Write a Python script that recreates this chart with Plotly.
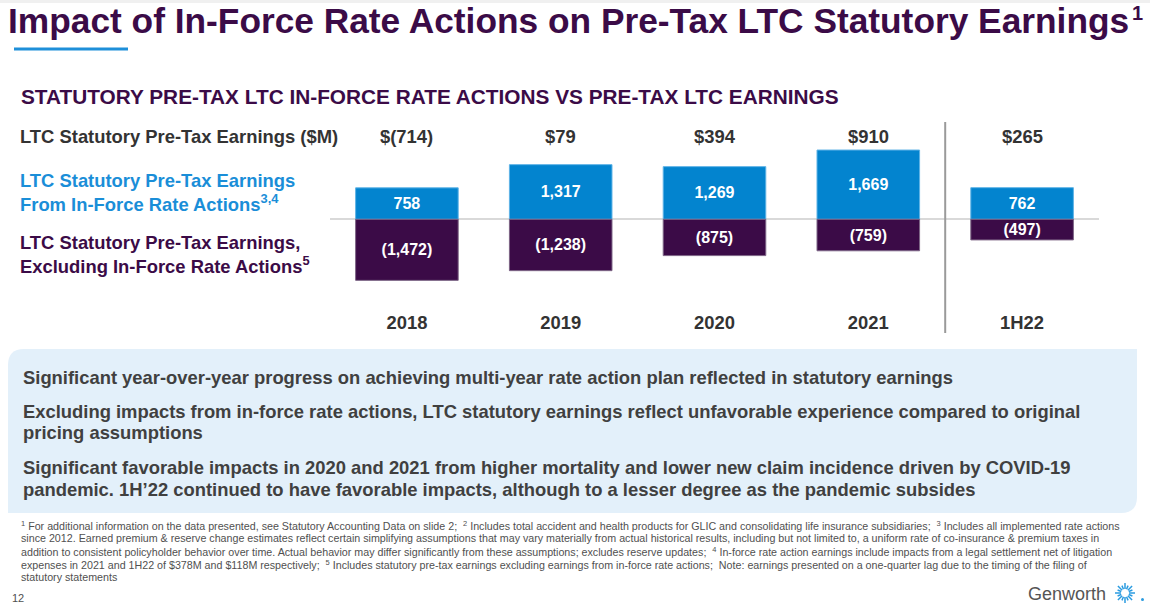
import math
import plotly.graph_objects as go

# ---------------- data ----------------
categories = ["2018", "2019", "2020", "2021", "1H22"]
rate_action_earnings = [758, 1317, 1269, 1669, 762]
excl_rate_action_earnings = [-1472, -1238, -875, -759, -497]
total_earnings = [r + e for r, e in zip(rate_action_earnings, excl_rate_action_earnings)]

W, H = 1150, 608
def px(x):
    return x / W
def py(y):
    return 1 - y / H

SANS = "Liberation Sans, Arial, sans-serif"
PURPLE = "#3b0b47"
BLUE_BAR = "#0384cf"
BLUE_TXT = "#1a8ed8"
DARK = "#333333"
GREY = "#404040"

def fmt_neg(v):
    return f"({abs(v):,})" if v < 0 else f"{v:,}"

fig = go.Figure()
fig.add_trace(go.Bar(
    x=categories, y=rate_action_earnings,
    marker=dict(color=BLUE_BAR, line=dict(color="#5fb3e6", width=1)),
    text=[fmt_neg(v) for v in rate_action_earnings],
    textposition="inside", insidetextanchor="middle",
    textfont=dict(family=SANS, size=16, color="white", weight="bold"),
    hoverinfo="skip", showlegend=False,
))
fig.add_trace(go.Bar(
    x=categories, y=excl_rate_action_earnings,
    marker=dict(color=PURPLE, line=dict(color="#7d6586", width=1)),
    text=[fmt_neg(v) for v in excl_rate_action_earnings],
    textposition="inside", insidetextanchor="middle",
    textfont=dict(family=SANS, size=16, color="white", weight="bold"),
    hoverinfo="skip", showlegend=False,
))

ann = []
# totals row (x given as category index)
for i, t in enumerate(total_earnings):
    ann.append(dict(x=i, xref="x", y=py(136), yref="paper",
                    text="<b>$" + fmt_neg(t) + "</b>", showarrow=False,
                    font=dict(family=SANS, size=18.4, color=DARK), xanchor="center", yanchor="middle"))

# title (superscript drawn separately so it stays inside the page)
ann.append(dict(x=px(6), y=py(21), xref="paper", yref="paper", xanchor="left", yanchor="middle",
                text="<b>Impact of In-Force Rate Actions on Pre-Tax LTC Statutory Earnings</b>",
                showarrow=False, font=dict(family=SANS, size=35.3, color=PURPLE)))
ann.append(dict(x=px(1130), y=py(13), xref="paper", yref="paper", xanchor="left", yanchor="middle",
                text="<b>1</b>", showarrow=False, font=dict(family=SANS, size=20, color=PURPLE)))
# subtitle
ann.append(dict(x=px(19), y=py(96), xref="paper", yref="paper", xanchor="left", yanchor="middle",
                text="<b>STATUTORY PRE-TAX LTC IN-FORCE RATE ACTIONS VS PRE-TAX LTC EARNINGS</b>",
                showarrow=False, font=dict(family=SANS, size=20.8, color=PURPLE)))
# row labels
ann.append(dict(x=px(18), y=py(136), xref="paper", yref="paper", xanchor="left", yanchor="middle",
                text="<b>LTC Statutory Pre-Tax Earnings ($M)</b>",
                showarrow=False, font=dict(family=SANS, size=18.4, color=DARK)))
ann.append(dict(x=px(18), y=py(192), xref="paper", yref="paper", xanchor="left", yanchor="middle", align="left",
                text="<b>LTC Statutory Pre-Tax Earnings<br>From In-Force Rate Actions<sup>3,4</sup></b>",
                showarrow=False, font=dict(family=SANS, size=18.4, color=BLUE_TXT)))
ann.append(dict(x=px(18), y=py(254), xref="paper", yref="paper", xanchor="left", yanchor="middle", align="left",
                text="<b>LTC Statutory Pre-Tax Earnings,<br>Excluding In-Force Rate Actions<sup>5</sup></b>",
                showarrow=False, font=dict(family=SANS, size=18.4, color=PURPLE)))

# box text lines
box_lines = [
    (377, "Significant year-over-year progress on achieving multi-year rate action plan reflected in statutory earnings"),
    (411, "Excluding impacts from in-force rate actions, LTC statutory earnings reflect unfavorable experience compared to original"),
    (432, "pricing assumptions"),
    (467, "Significant favorable impacts in 2020 and 2021 from higher mortality and lower new claim incidence driven by COVID-19"),
    (489, "pandemic. 1H\u201922 continued to have favorable impacts, although to a lesser degree as the pandemic subsides"),
]
for yy, t in box_lines:
    ann.append(dict(x=px(21), y=py(yy), xref="paper", yref="paper", xanchor="left", yanchor="middle",
                    text="<b>" + t + "</b>", showarrow=False,
                    font=dict(family=SANS, size=18.4, color=GREY)))

# footnotes
foot_lines = [
    "<sup>1</sup> For additional information on the data presented, see Statutory Accounting Data on slide 2;  <sup>2</sup> Includes total accident and health products for GLIC and consolidating life insurance subsidiaries;  <sup>3</sup> Includes all implemented rate actions",
    "since 2012. Earned premium & reserve change estimates reflect certain simplifying assumptions that may vary materially from actual historical results, including but not limited to, a uniform rate of co-insurance & premium taxes in",
    "addition to consistent policyholder behavior over time. Actual behavior may differ significantly from these assumptions; excludes reserve updates;  <sup>4</sup> In-force rate action earnings include impacts from a legal settlement net of litigation",
    "expenses in 2021 and 1H22 of $378M and $118M respectively;  <sup>5</sup> Includes statutory pre-tax earnings excluding earnings from in-force rate actions;  Note: earnings presented on a one-quarter lag due to the timing of the filing of",
    "statutory statements",
]
for i, t in enumerate(foot_lines):
    ann.append(dict(x=px(19), y=py(525 + 13 * i), xref="paper", yref="paper", xanchor="left", yanchor="middle",
                    text=t, showarrow=False, font=dict(family=SANS, size=10.7, color="#505050")))

ann.append(dict(x=px(10), y=py(598), xref="paper", yref="paper", xanchor="left", yanchor="middle",
                text="12", showarrow=False, font=dict(family=SANS, size=11, color="#505050")))
ann.append(dict(x=px(1108), y=py(594), xref="paper", yref="paper", xanchor="right", yanchor="middle",
                text="Genworth", showarrow=False, font=dict(family=SANS, size=18, color="#555555")))

shapes = []
# faint shadow band at the top of the slide
shapes.append(dict(type="rect", xref="paper", yref="paper", x0=0, x1=1, y0=py(3), y1=1,
                   fillcolor="#f0f0f0", line=dict(width=0), layer="below"))
# title underline
shapes.append(dict(type="line", xref="paper", yref="paper", x0=px(14), x1=px(128), y0=py(49), y1=py(49),
                   line=dict(color="#1e8fd9", width=3)))
# light-blue rounded box
r = 16
x0b, x1b, y0b, y1b = 8, 1137, 349, 513
path = (f"M {px(x0b + r)},{py(y0b)} L {px(x1b)},{py(y0b)} L {px(x1b)},{py(y1b - r)} "
        f"Q {px(x1b)},{py(y1b)} {px(x1b - r)},{py(y1b)} L {px(x0b)},{py(y1b)} L {px(x0b)},{py(y0b + r)} "
        f"Q {px(x0b)},{py(y0b)} {px(x0b + r)},{py(y0b)} Z")
shapes.append(dict(type="path", xref="paper", yref="paper", path=path, fillcolor="#e3f0fa",
                   line=dict(width=0), layer="below"))
# separator between annual and half-year columns
shapes.append(dict(type="line", xref="x", yref="paper", x0=3.5, x1=3.5, y0=py(122), y1=py(333),
                   line=dict(color="#9a9a9a", width=2)))
# logo starburst
cx, cy = 1125, 593
for k in range(16):
    a = 2 * math.pi * k / 16
    ri, ro = 4, (10 if k % 2 == 0 else 8)
    shapes.append(dict(type="line", xref="paper", yref="paper",
                       x0=px(cx + ri * math.cos(a)), y0=py(cy + ri * math.sin(a)),
                       x1=px(cx + ro * math.cos(a)), y1=py(cy + ro * math.sin(a)),
                       line=dict(color="#2a9be0", width=1.5)))
shapes.append(dict(type="circle", xref="paper", yref="paper", x0=px(1141), x1=px(1144), y0=py(598), y1=py(601),
                   fillcolor="#2a9be0", line=dict(width=0)))

fig.update_layout(
    width=W, height=H, margin=dict(l=0, r=0, t=0, b=0),
    paper_bgcolor="white", plot_bgcolor="rgba(0,0,0,0)",
    barmode="relative", bargap=0.333,
    uniformtext=dict(minsize=16, mode="show"),
    annotations=ann, shapes=shapes,
    xaxis=dict(domain=[px(330), px(1099)], type="category", categoryorder="array", categoryarray=categories,
               range=[-0.5, len(categories) - 0.5], autorange=False,
               showgrid=False, showline=False, ticks="",
               tickfont=dict(family=SANS, size=18.4, color=DARK, weight="bold"), fixedrange=True),
    yaxis=dict(domain=[py(310), py(120)], range=[-2186, 2393], autorange=False, showgrid=False,
               showticklabels=False, zeroline=True, zerolinecolor="#d9d9d9", zerolinewidth=1.5,
               showline=False, fixedrange=True),
)

fig.write_html("out.html", config={"displayModeBar": False},
               post_script="document.body.style.margin='0';")
